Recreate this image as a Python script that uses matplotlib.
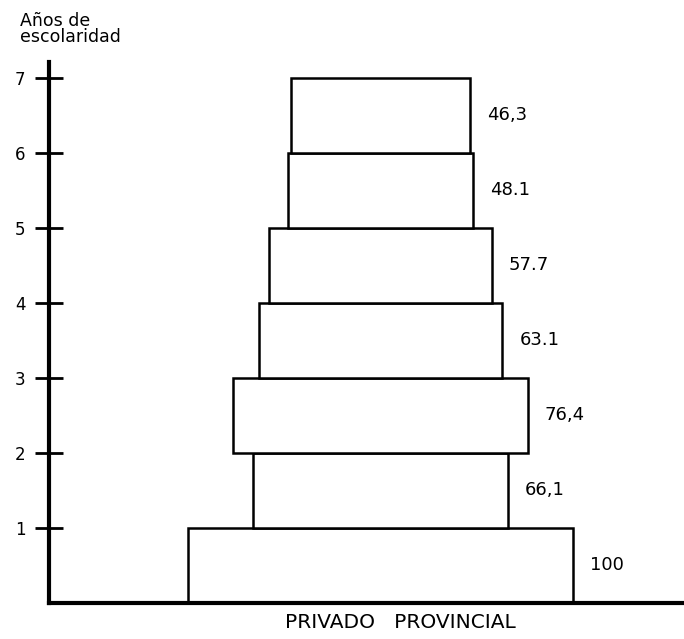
import matplotlib
matplotlib.use("Agg")
import matplotlib.pyplot as plt

# Data
years_bottom = [0, 1, 2, 3, 4, 5, 6]
values = [100, 66.1, 76.4, 63.1, 57.7, 48.1, 46.3]
value_labels = ["100", "66,1", "76,4", "63.1", "57.7", "48.1", "46,3"]
yticks = [1, 2, 3, 4, 5, 6, 7]
ylabel = "Años de\nescolaridad"
xlabel = "PRIVADO   PROVINCIAL"

W, H = 684, 639
fig = plt.figure(figsize=(W / 100, H / 100), dpi=100)
ax = fig.add_axes([49 / W, (H - 603) / H, (W - 49) / W, (603 - 62) / H])

ax.bar([0] * len(values), [1] * len(values), width=values, bottom=years_bottom,
       align="center", facecolor="white", edgecolor="black", linewidth=1.8, zorder=2)

for b, v, lab in zip(years_bottom, values, value_labels):
    ax.text(v / 2 + 4.5, b + 0.5, lab, ha="left", va="center", fontsize=13,
            color="black")

ax.set_xlim(-86.1, 78.8)
ax.set_ylim(0, 7.21)

for s in ["top", "right"]:
    ax.spines[s].set_visible(False)
ax.spines["left"].set_linewidth(3)
ax.spines["bottom"].set_linewidth(3)
ax.spines["left"].set_zorder(3)
ax.spines["bottom"].set_zorder(3)

ax.set_xticks([])
ax.set_yticks(yticks)
ax.set_yticklabels([str(t) for t in yticks], fontsize=12)
ax.tick_params(axis="y", direction="inout", length=20, width=2, pad=7)

fig.text(20 / W, 1 - 29 / H, ylabel, ha="left", va="center", fontsize=12.5,
         linespacing=0.8)
fig.text(400 / W, 1 - 622 / H, xlabel, ha="center", va="center", fontsize=14.5)

fig.savefig("out.png", dpi=100)
